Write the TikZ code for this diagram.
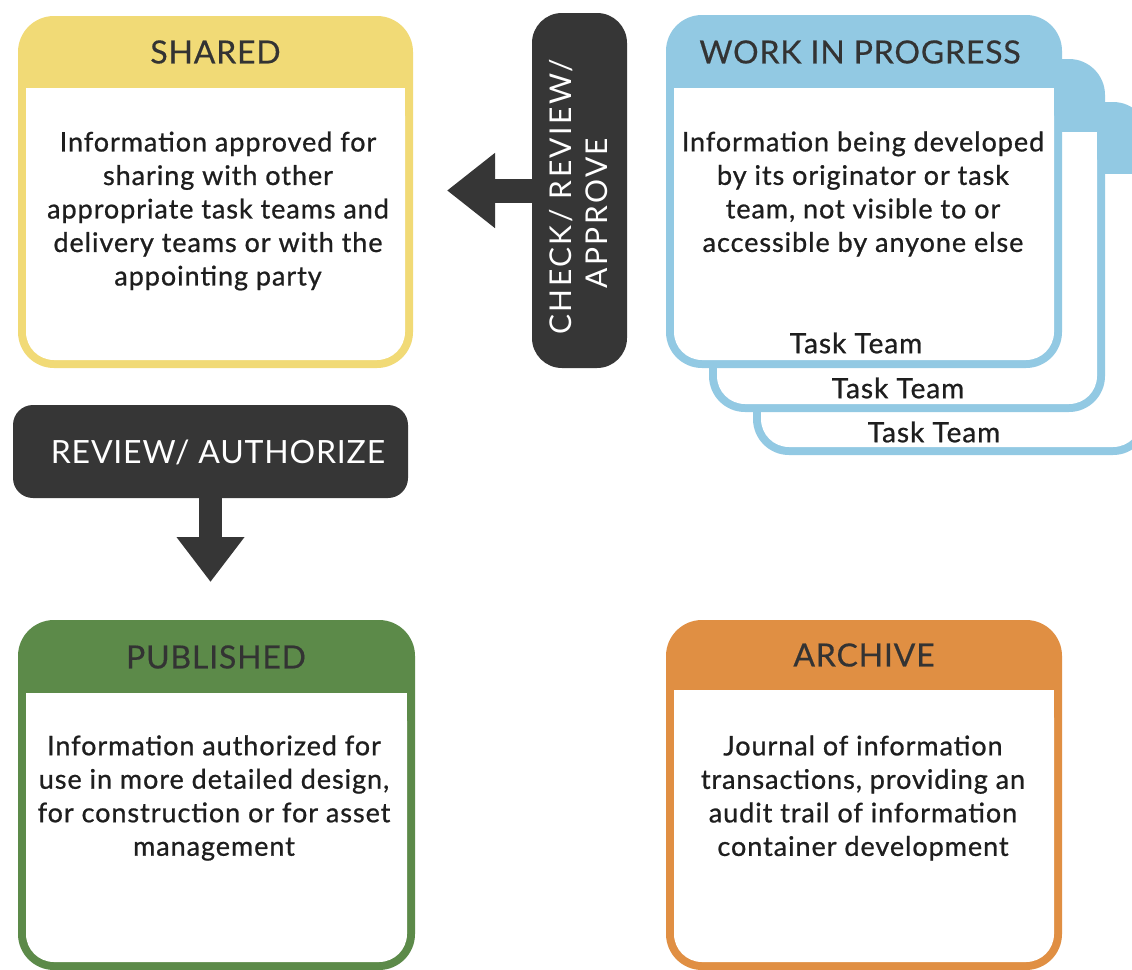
\documentclass[tikz,border=0pt]{standalone}
\usepackage{fontspec}
\setmainfont{Lato}
\newfontfamily\bodyfnt[LetterSpace=3.5,FakeBold=0.8]{Lato}
\newfontfamily\titlefnt[LetterSpace=2.5,FakeBold=0.4]{Lato}
\newfontfamily\darkfnt[LetterSpace=2.5]{Lato}
\newfontfamily\darkfntw[LetterSpace=8]{Lato}
\usetikzlibrary{arrows.meta}
\definecolor{cyellow}{HTML}{F1DA76}
\definecolor{cblue}{HTML}{92C9E3}
\definecolor{cgreen}{HTML}{5C8A49}
\definecolor{corange}{HTML}{E08F43}
\definecolor{cdark}{HTML}{363636}
\definecolor{ctitle}{HTML}{333333}
\definecolor{cbody}{HTML}{1E1E1E}
\newcommand\statecard[6]{% L, T, R, B, header bottom, colour
  \fill[#6, rounded corners=36pt] (#1,#2) rectangle (#3,#4);
  \fill[white, rounded corners=28pt] (#1+8,#5) rectangle (#3-8,#4-8);
  \fill[white] (#1+8,#5) rectangle (#3-8,#5+40);
}
\tikzset{
  cardtitle/.style={text=ctitle, font=\titlefnt\fontsize{32}{38}\selectfont, inner sep=0pt},
  cardbody/.style={text=cbody, align=center, font=\bodyfnt\fontsize{27}{33.5}\selectfont, inner sep=0pt},
  teamlabel/.style={text=cbody, font=\bodyfnt\fontsize{28}{33}\selectfont, inner sep=0pt},
  darkbox/.style={fill=cdark, draw=none, inner sep=0pt},
  darktext/.style={text=white, inner sep=0pt},
}
\begin{document}
\begin{tikzpicture}[x=1pt,y=-1pt]
\useasboundingbox (0,0) rectangle (1132,969);
\clip (0,0) rectangle (1132,969);
\fill[white] (0,0) rectangle (1132,969);

% SHARED
\statecard{18}{16}{413}{368}{88}{cyellow}
\node[cardtitle] (sharedT) at (215.5,52) {SHARED};
\node[cardbody] (sharedB) at (218,211) {Information approved for\\sharing with other\\appropriate task teams and\\delivery teams or with the\\appointing party};

% WORK IN PROGRESS stack
\statecard{753}{102}{1149}{455}{174}{cblue}
\statecard{709}{59}{1105}{412}{132}{cblue}
\statecard{666}{15}{1062}{368}{88}{cblue}
\node[cardtitle] (wipT) at (860,52) {WORK IN PROGRESS};
\node[cardbody] (wipB) at (863,194) {Information being developed\\by its originator or task\\team, not visible to or\\accessible by anyone else};
\node[teamlabel] (team1) at (856,343) {Task Team};
\node[teamlabel] (team2) at (898,388) {Task Team};
\node[teamlabel] (team3) at (934,432) {Task Team};

% PUBLISHED
\statecard{18}{620}{415}{970}{693}{cgreen}
\node[cardtitle] (pubT) at (216,657) {PUBLISHED};
\node[cardbody] (pubB) at (214,798) {Information authorized for\\use in more detailed design,\\for construction or for asset\\management};

% ARCHIVE
\statecard{666}{620}{1062}{970}{690}{corange}
\node[cardtitle] (arcT) at (864,655) {ARCHIVE};
\node[cardbody] (arcB) at (863,798) {Journal of information\\transactions, providing an\\audit trail of information\\container development};

% CHECK / REVIEW / APPROVE
\node[darkbox, rounded corners=30pt, minimum width=95pt, minimum height=355pt] (cra) at (579.5,190.5) {};
\node[darktext, rotate=90, align=center, font=\darkfntw\fontsize{30}{36}\selectfont] (craT) at (579,197) {CHECK/ REVIEW/\\APPROVE\hspace*{32pt}};
\coordinate (tip1) at (447,190.5);
\draw[cdark, line width=24pt, -{Triangle[length=48pt,width=72pt]}] (cra.west) -- (tip1);

% REVIEW / AUTHORIZE
\node[darkbox, rounded corners=20pt, minimum width=395pt, minimum height=93pt] (ra) at (210.5,451.5) {};
\node[darktext, font=\darkfnt\fontsize{32}{38}\selectfont] (raT) at (218,452) {REVIEW/ AUTHORIZE};
\coordinate (tip2) at (210.5,582);
\draw[cdark, line width=23pt, -{Triangle[length=45pt,width=65pt]}] (ra.south) -- (tip2);
\end{tikzpicture}
\end{document}
